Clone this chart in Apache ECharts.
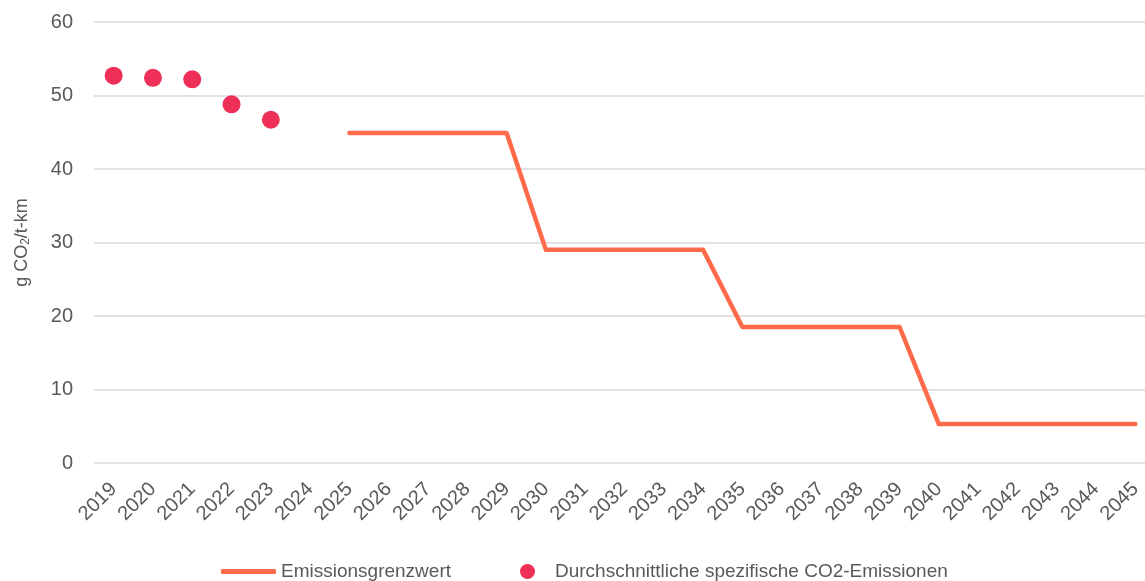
<!DOCTYPE html>
<html>
<head>
<meta charset="utf-8">
<script src="https://cdn.jsdelivr.net/npm/echarts@6/dist/echarts.min.js"></script>
<style>html,body{margin:0;padding:0;background:#fff}#c{width:1145px;height:581px}</style>
</head>
<body>
<div id="c"></div>
<script>
const years = ['2019','2020','2021','2022','2023','2024','2025','2026','2027','2028','2029','2030','2031','2032','2033','2034','2035','2036','2037','2038','2039','2040','2041','2042','2043','2044','2045'];
const limitValues = [null,null,null,null,null,null,44.9,44.9,44.9,44.9,44.9,29.0,29.0,29.0,29.0,29.0,18.5,18.5,18.5,18.5,18.5,5.3,5.3,5.3,5.3,5.3,5.3];
const avgEmissions = [52.7,52.4,52.2,48.8,46.7,null,null,null,null,null,null,null,null,null,null,null,null,null,null,null,null,null,null,null,null,null,null];
const yTicks = {min:0, max:60, interval:10};
const seriesNames = ['Emissionsgrenzwert','Durchschnittliche spezifische CO2-Emissionen'];

const FONT = 'Liberation Sans, Arial, sans-serif';
const TXT = '#595959';
const chart = echarts.init(document.getElementById('c'), null, {renderer:'canvas'});
chart.setOption({
  animation:false,
  backgroundColor:'#fff',
  grid:{left:94, right:-10, top:22, bottom:118, outerBoundsMode:'none', containLabel:false},
  legend:[{
    data:[seriesNames[0]], left:216, top:557, itemWidth:55, itemHeight:5, icon:'roundRect', itemGap:6,
    textStyle:{fontFamily:FONT, fontSize:19, color:TXT}
  },{
    data:[seriesNames[1]], left:515, top:557, itemWidth:15, itemHeight:15, icon:'circle',
    textStyle:{fontFamily:FONT, fontSize:19, color:TXT, padding:[0,0,0,15]}
  }],
  xAxis:{
    type:'category', data:years, boundaryGap:true,
    axisLine:{show:false}, axisTick:{show:false},
    axisLabel:{rotate:45, interval:0, fontFamily:FONT, fontSize:20, color:TXT, margin:23}
  },
  yAxis:{
    type:'value', min:yTicks.min, max:yTicks.max, interval:yTicks.interval,
    name:'g CO{sub|2}/t-km', nameLocation:'middle', nameGap:62, nameRotate:90,
    nameTextStyle:{fontFamily:FONT, fontSize:18, color:TXT, rich:{sub:{fontSize:12, verticalAlign:'bottom', padding:[8,0,0,0], fontFamily:FONT, color:TXT}}},
    axisLine:{show:false}, axisTick:{show:false},
    axisLabel:{fontFamily:FONT, fontSize:20, color:TXT, margin:21},
    splitLine:{lineStyle:{color:'#D9D9D9', width:1.5}}
  },
  series:[{
    name:seriesNames[0], type:'line', data:limitValues, showSymbol:false, symbol:'none',
    lineStyle:{color:'#FF6A4A', width:4.5, cap:'round', join:'round'},
    itemStyle:{color:'#FF6A4A'}, connectNulls:false
  },{
    name:seriesNames[1], type:'scatter', data:avgEmissions, symbolSize:18,
    itemStyle:{color:'#EE2F57', opacity:1}
  }]
});
</script>
</body>
</html>
